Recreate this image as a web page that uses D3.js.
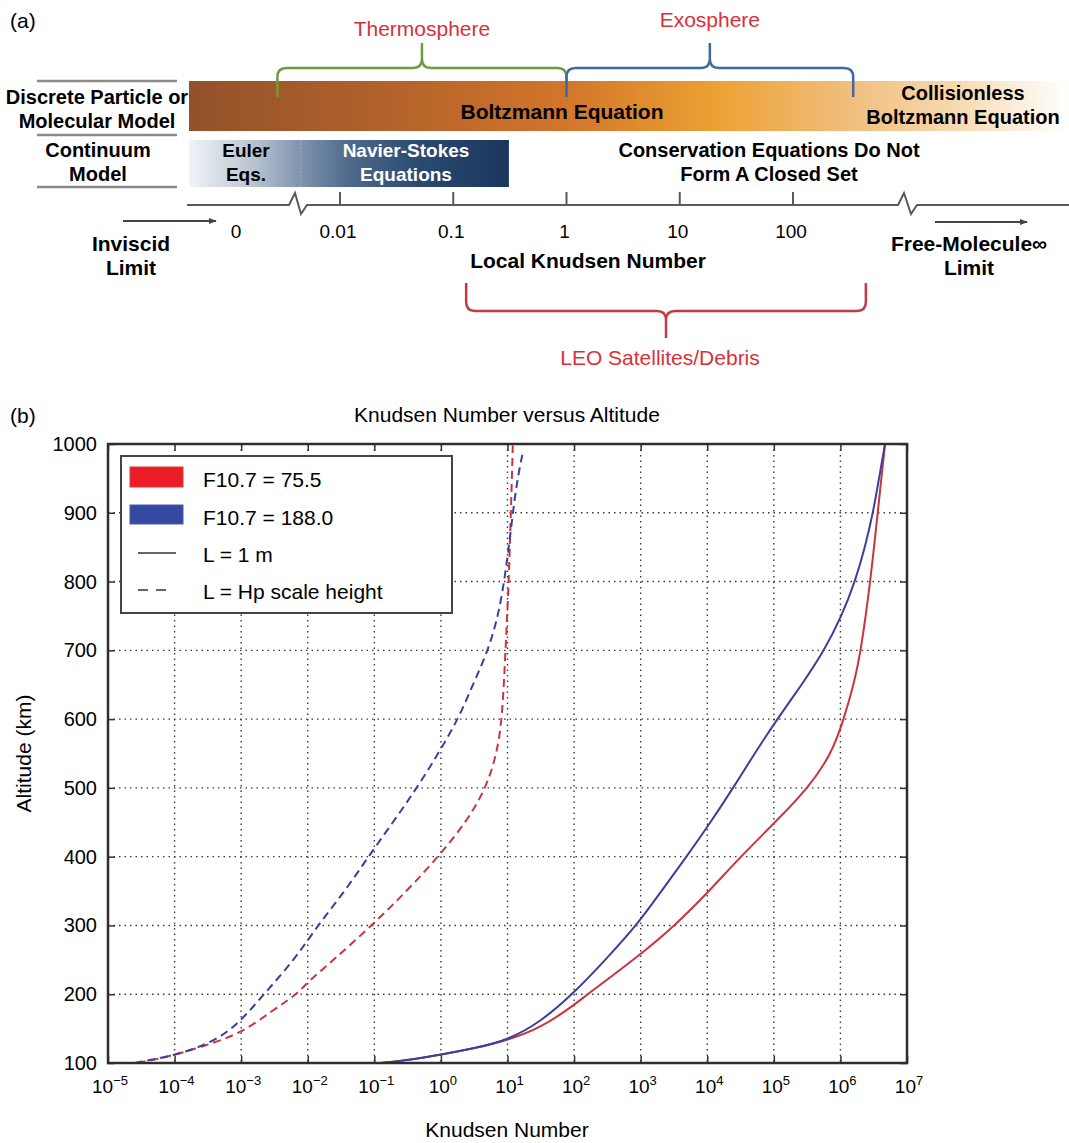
<!DOCTYPE html>
<html>
<head>
<meta charset="utf-8">
<script src="https://cdn.jsdelivr.net/npm/d3@7/dist/d3.min.js"></script>
<style>
  body { margin: 0; background: #fff; }
  text { font-family: "Liberation Sans", Arial, Helvetica, sans-serif; }
</style>
</head>
<body>
<svg id="chart" width="1069" height="1143"></svg>
<script>
// ---------- (a) regime diagram ----------
const topTickValues = [0.01, 0.1, 1, 10, 100];
const topTickLabels = ["0.01", "0.1", "1", "10", "100"];
const braces = [
  {label: "Thermosphere", from: 0.0028, to: 1, color: "#6e9b3a", text: "#d8313c", side: "up"},
  {label: "Exosphere", from: 1, to: 340, color: "#3d6aa1", text: "#d8313c", side: "up"},
  {label: "LEO Satellites/Debris", from: 0.13, to: 440, color: "#c23a42", text: "#d8313c", side: "down"}
];
const eulerEnd = 0.0045, nsEnd = 0.31;

// ---------- (b) Knudsen number vs altitude ----------
const xTickExps = [-5, -4, -3, -2, -1, 0, 1, 2, 3, 4, 5, 6, 7];
const yTicks = [100, 200, 300, 400, 500, 600, 700, 800, 900, 1000];

// F10.7 = 75.5, L = Hp (log10 Kn)
const redHpAlt = [100, 110, 125, 143, 177, 200, 218, 250, 300, 350, 400, 450, 500, 550, 600, 700, 800, 900, 998];
const redHpLog = [-4.55, -4.05, -3.55, -3.0, -2.52, -2.16, -2.0, -1.61, -1.04, -0.51, -0.04, 0.38, 0.68, 0.84, 0.92, 0.97, 1.02, 1.05, 1.08];
// F10.7 = 188.0, L = Hp
const blueHpAlt = [100, 110, 125, 150, 200, 250, 300, 350, 400, 450, 500, 550, 600, 650, 700, 750, 800, 850, 900, 950, 988];
const blueHpLog = [-4.6, -4.05, -3.55, -3.1, -2.66, -2.2, -1.85, -1.44, -1.09, -0.72, -0.36, -0.04, 0.26, 0.48, 0.71, 0.86, 0.95, 1.02, 1.08, 1.15, 1.23];
// F10.7 = 75.5, L = 1 m
const red1mAlt = [100, 104, 112, 122, 133, 151, 184, 200, 250, 300, 350, 400, 450, 500, 550, 600, 650, 700, 800, 900, 1000];
const red1mLog = [-0.9, -0.5, 0.0, 0.53, 1.0, 1.5, 2.0, 2.2, 2.9, 3.52, 4.03, 4.5, 5.02, 5.52, 5.87, 6.05, 6.2, 6.31, 6.45, 6.56, 6.67];
// F10.7 = 188.0, L = 1 m
const blue1mAlt = [100, 104, 112, 122, 133, 160, 200, 250, 300, 350, 400, 450, 500, 550, 600, 650, 700, 750, 800, 850, 900, 950, 1000];
const blue1mLog = [-0.9, -0.5, 0.0, 0.53, 1.0, 1.5, 1.98, 2.47, 2.94, 3.31, 3.69, 4.05, 4.39, 4.71, 5.05, 5.42, 5.76, 6.02, 6.22, 6.37, 6.49, 6.58, 6.67];

const legendLabels = ["F10.7 = 75.5", "F10.7 = 188.0", "L = 1 m", "L = Hp scale height"];
const RED = "#c9353e", BLUE = "#3b3f9b";

const svg = d3.select("#chart");

// ===================== part (a) =====================
const defs = svg.append("defs");
const og = defs.append("linearGradient").attr("id", "orange").attr("x1", "0").attr("x2", "1");
[[0, "#93512a"], [0.25, "#b6642b"], [0.43, "#d2762a"], [0.6, "#eda133"], [0.75, "#f1be7e"], [0.87, "#f6d9b0"], [1, "#ffffff"]]
  .forEach(s => og.append("stop").attr("offset", s[0]).attr("stop-color", s[1]));
const bg = defs.append("linearGradient").attr("id", "blueband").attr("x1", "0").attr("x2", "1");
[[0, "#f1f3f7"], [0.19, "#bcc7d4"], [0.35, "#7e93ad"], [0.5, "#4e6a8c"], [0.72, "#2a4a70"], [1, "#1b365c"]]
  .forEach(s => bg.append("stop").attr("offset", s[0]).attr("stop-color", s[1]));

const kx = d3.scaleLog().domain([0.01, 100]).range([340, 793]);

svg.append("text").attr("x", 10).attr("y", 28).attr("font-size", 21).text("(a)");

// left separators
[81, 135, 187].forEach(y => svg.append("line").attr("x1", 37).attr("x2", 177)
  .attr("y1", y).attr("y2", y).attr("stroke", "#8a8a8a").attr("stroke-width", 2.5));

// bands
svg.append("rect").attr("x", 189).attr("y", 81).attr("width", 880).attr("height", 50).attr("fill", "url(#orange)");
svg.append("rect").attr("x", 189).attr("y", 140).attr("width", kx(nsEnd) - 189).attr("height", 47).attr("fill", "url(#blueband)");
svg.append("line").attr("x1", kx(eulerEnd)).attr("x2", kx(eulerEnd)).attr("y1", 140).attr("y2", 187)
  .attr("stroke", "#aab4c2").attr("stroke-width", 1).attr("stroke-dasharray", "1.5,2");

function label(x, y, lines, opts) {
  const t = svg.append("text").attr("x", x).attr("y", y).attr("text-anchor", "middle")
    .attr("font-size", opts.size).attr("font-weight", opts.bold ? "bold" : "normal").attr("fill", opts.fill || "#000");
  lines.forEach((l, i) => t.append("tspan").attr("x", x).attr("dy", i === 0 ? 0 : opts.lh).text(l));
  return t;
}
const B = {size: 20, bold: true, lh: 24};
const BL = {size: 21, bold: true, lh: 24};
label(97, 104, ["Discrete Particle or", "Molecular Model"], B);
label(98, 157, ["Continuum", "Model"], B);
label(562, 119, ["Boltzmann Equation"], {size: 21, bold: true});
label(963, 100, ["Collisionless", "Boltzmann Equation"], B);
label(246, 157, ["Euler", "Eqs."], {size: 19, bold: true, lh: 24});
label(406, 157, ["Navier-Stokes", "Equations"], {size: 19, bold: true, lh: 24, fill: "#fff"});
label(769, 157, ["Conservation Equations Do Not", "Form A Closed Set"], B);

// Knudsen axis with breaks
const axisY = 205;
svg.append("path")
  .attr("d", `M187,${axisY} L289,${axisY} L295,193 L301,214 L307,${axisY} L898,${axisY} L904,193 L911,214 L917,${axisY} L1069,${axisY}`)
  .attr("fill", "none").attr("stroke", "#5a5a5a").attr("stroke-width", 2);
svg.selectAll(".ktick").data(topTickValues).join("line")
  .attr("x1", d => kx(d)).attr("x2", d => kx(d)).attr("y1", 192).attr("y2", axisY)
  .attr("stroke", "#5a5a5a").attr("stroke-width", 2);
svg.selectAll(".klab").data(topTickLabels).join("text")
  .attr("x", (d, i) => kx(topTickValues[i]) - 2).attr("y", 238).attr("text-anchor", "middle")
  .attr("font-size", 19).text(d => d);
svg.append("text").attr("x", 236).attr("y", 238).attr("text-anchor", "middle").attr("font-size", 19).text("0");

label(131, 251, ["Inviscid", "Limit"], BL);
label(969, 251, ["Free-Molecule\u221e", "Limit"], BL);
label(588, 268, ["Local Knudsen Number"], BL);

defs.append("marker").attr("id", "arr").attr("viewBox", "0 0 10 10").attr("refX", 9).attr("refY", 5)
  .attr("markerWidth", 4).attr("markerHeight", 4).attr("orient", "auto")
  .append("path").attr("d", "M0,1 L10,5 L0,9 Z").attr("fill", "#444");
[[123, 216, 221], [935, 1027, 222]].forEach(a => svg.append("line").attr("x1", a[0]).attr("x2", a[1])
  .attr("y1", a[2]).attr("y2", a[2]).attr("stroke", "#444").attr("stroke-width", 2).attr("marker-end", "url(#arr)"));

function bracePath(x0, x1, y0, yb, yt) {
  const xm = (x0 + x1) / 2, r = 9, s = Math.sign(y0 - yb), t = Math.sign(yt - yb);
  return `M${x0},${y0} L${x0},${yb + s * r} Q${x0},${yb} ${x0 + r},${yb} L${xm - r},${yb} Q${xm},${yb} ${xm},${yb + t * r} L${xm},${yt}` +
    ` M${xm},${yt} L${xm},${yb + t * r} Q${xm},${yb} ${xm + r},${yb} L${x1 - r},${yb} Q${x1},${yb} ${x1},${yb + s * r} L${x1},${y0}`;
}
braces.forEach(b => {
  const x0 = kx(b.from), x1 = kx(b.to), xm = (x0 + x1) / 2;
  const g = b.side === "up" ? [97, 68, 43] : [283, 311, 338];
  svg.append("path").attr("d", bracePath(x0, x1, g[0], g[1], g[2]))
    .attr("fill", "none").attr("stroke", b.color).attr("stroke-width", 2.5);
  const ty = b.side === "up" ? (b.label === "Exosphere" ? 27 : 36) : 365;
  svg.append("text").attr("x", xm - (b.side === "down" ? 6 : 0)).attr("y", ty).attr("text-anchor", "middle")
    .attr("font-size", 21).attr("fill", b.text).text(b.label);
});

// ===================== part (b) =====================
const L = 108, R = 907, T = 444, Bt = 1063;
const x = d3.scaleLog().domain([1e-5, 1e7]).range([L, R]);
const y = d3.scaleLinear().domain([100, 1000]).range([Bt, T]);

svg.append("text").attr("x", 10).attr("y", 423).attr("font-size", 21).text("(b)");
svg.append("text").attr("x", 507).attr("y", 422).attr("text-anchor", "middle").attr("font-size", 21)
  .text("Knudsen Number versus Altitude");
svg.append("text").attr("transform", `translate(31,${(T + Bt) / 2}) rotate(-90)`).attr("text-anchor", "middle")
  .attr("font-size", 21).text("Altitude (km)");
svg.append("text").attr("x", 507).attr("y", 1137).attr("text-anchor", "middle").attr("font-size", 21)
  .text("Knudsen Number");

const plot = svg.append("g");
// grid
const gridStyle = s => s.attr("stroke", "#3a3a3a").attr("stroke-width", 1.4).attr("stroke-dasharray", "1.5,4");
plot.selectAll(".vg").data(xTickExps.slice(1, -1)).join("line")
  .attr("x1", d => x(Math.pow(10, d))).attr("x2", d => x(Math.pow(10, d))).attr("y1", T).attr("y2", Bt).call(gridStyle);
plot.selectAll(".hg").data(yTicks.slice(1, -1)).join("line")
  .attr("x1", L).attr("x2", R).attr("y1", d => y(d)).attr("y2", d => y(d)).call(gridStyle);

// axes with inward ticks
const xAxis = d3.axisBottom(x).tickValues(xTickExps.map(e => Math.pow(10, e))).tickSizeInner(-7).tickSizeOuter(0).tickFormat("");
const xAxisTop = d3.axisTop(x).tickValues(xTickExps.map(e => Math.pow(10, e))).tickSizeInner(-7).tickSizeOuter(0).tickFormat("");
const yAxis = d3.axisLeft(y).tickValues(yTicks).tickSizeInner(-7).tickSizeOuter(0).tickFormat("");
const yAxisR = d3.axisRight(y).tickValues(yTicks).tickSizeInner(-7).tickSizeOuter(0).tickFormat("");
[[xAxis, `translate(0,${Bt})`], [xAxisTop, `translate(0,${T})`], [yAxis, `translate(${L},0)`], [yAxisR, `translate(${R},0)`]]
  .forEach(a => {
    const g = plot.append("g").attr("transform", a[1]).call(a[0]);
    g.select(".domain").remove();
    g.selectAll("line").attr("stroke", "#333").attr("stroke-width", 1.5);
  });

// tick labels
plot.selectAll(".ylab").data(yTicks).join("text")
  .attr("x", 97).attr("y", d => y(d) + 7).attr("text-anchor", "end").attr("font-size", 20).text(d => d);
const xl = plot.selectAll(".xlab").data(xTickExps).join("text")
  .attr("x", d => x(Math.pow(10, d)) + 2).attr("y", 1093).attr("text-anchor", "middle").attr("font-size", 19);
xl.append("tspan").text("10");
xl.append("tspan").attr("dy", -8).attr("font-size", 13).text(d => (d < 0 ? "\u2212" : "") + Math.abs(d));

// curves
svg.append("clipPath").attr("id", "clip").append("rect").attr("x", L).attr("y", T).attr("width", R - L).attr("height", Bt - T);
const line = d3.line().x(d => x(Math.pow(10, d[1]))).y(d => y(d[0])).curve(d3.curveBasis);
const series = [
  {alt: redHpAlt, kn: redHpLog, color: RED, dash: "8,5"},
  {alt: blueHpAlt, kn: blueHpLog, color: BLUE, dash: "8,5"},
  {alt: red1mAlt, kn: red1mLog, color: RED, dash: null},
  {alt: blue1mAlt, kn: blue1mLog, color: BLUE, dash: null}
];
const curves = plot.append("g").attr("clip-path", "url(#clip)");
series.forEach(s => {
  curves.append("path").datum(s.alt.map((a, i) => [a, s.kn[i]]))
    .attr("d", line).attr("fill", "none").attr("stroke", s.color).attr("stroke-width", 2)
    .attr("stroke-dasharray", s.dash);
});

// frame
plot.append("rect").attr("x", L).attr("y", T).attr("width", R - L).attr("height", Bt - T)
  .attr("fill", "none").attr("stroke", "#2e2e2e").attr("stroke-width", 2.5);

// legend
const lg = plot.append("g");
lg.append("rect").attr("x", 121).attr("y", 456).attr("width", 331).attr("height", 157)
  .attr("fill", "#fff").attr("stroke", "#444").attr("stroke-width", 2);
const rowY = [480, 518, 555, 592];
lg.append("rect").attr("x", 130).attr("y", rowY[0] - 13).attr("width", 53).attr("height", 20).attr("fill", "#ec1c26").attr("stroke", "#d23a3a");
lg.append("rect").attr("x", 130).attr("y", rowY[1] - 13).attr("width", 53).attr("height", 19).attr("fill", "#3549a0").attr("stroke", "#4a5aa8");
lg.append("line").attr("x1", 138).attr("x2", 176).attr("y1", rowY[2] - 2).attr("y2", rowY[2] - 2).attr("stroke", "#333").attr("stroke-width", 1.5);
lg.append("line").attr("x1", 138).attr("x2", 172).attr("y1", rowY[3] - 2).attr("y2", rowY[3] - 2).attr("stroke", "#333").attr("stroke-width", 1.5).attr("stroke-dasharray", "10,8");
lg.selectAll(".ltxt").data(legendLabels).join("text")
  .attr("x", 203).attr("y", (d, i) => rowY[i] + 7).attr("font-size", 21).text(d => d);
</script>
</body>
</html>
